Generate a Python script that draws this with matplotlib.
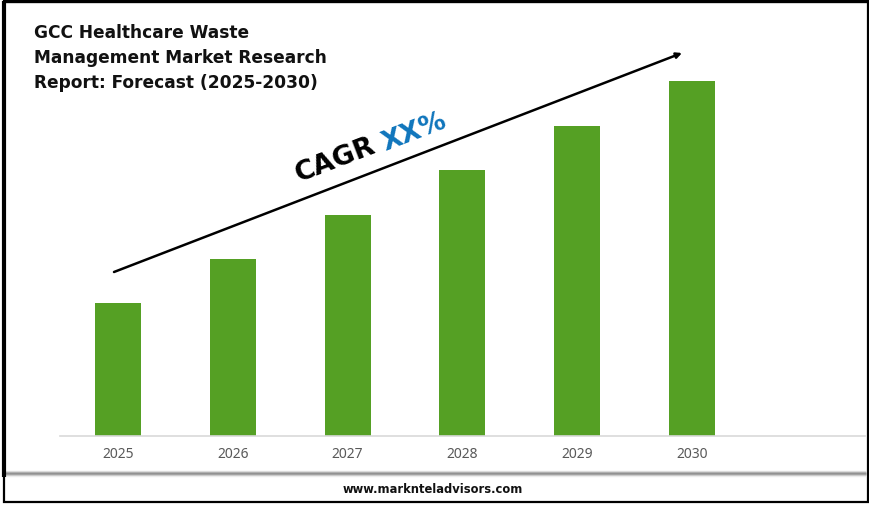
import matplotlib.pyplot as plt
from matplotlib.patches import Rectangle

plt.rcParams["font.family"] = ["Noto Sans", "DejaVu Sans"]

years = ["2025", "2026", "2027", "2028", "2029", "2030"]
values = [1.33, 1.77, 2.215, 2.66, 3.10, 3.55]

title = "GCC Healthcare Waste\nManagement Market Research\nReport: Forecast (2025-2030)"

fig = plt.figure(figsize=(8.7, 5.06), dpi=100)

# capa de fondo en pixeles para el marco y los textos
bg = fig.add_axes([0, 0, 1, 1])
bg.set_xlim(0, 870)
bg.set_ylim(506, 0)
bg.axis("off")

# sombra gris encima del pie
for y, c in zip([472, 473, 474, 475, 476, 477], ["#e4e4e4", "#b8b8b8", "#8f8f8f", "#9a9a9a", "#c4c4c4", "#ececec"]):
    bg.plot([5, 866], [y, y], color=c, lw=1, solid_capstyle="butt")

# marco
bg.add_patch(Rectangle((4, 1.5), 864, 501, fill=False, ec="black", lw=1.6))
bg.plot([4, 4], [2, 478], color="black", lw=3, solid_capstyle="butt")
bg.plot([4, 868], [1.5, 1.5], color="black", lw=2.4, solid_capstyle="butt")

# grafica de barras
ax = fig.add_axes([60 / 870, (506 - 437) / 506, 805 / 870, 396 / 506])
ax.patch.set_alpha(0)
ax.bar(range(len(years)), values, width=0.4, color="#55a024")
ax.set_xlim(-0.505, 6.507)
ax.set_ylim(0, 3.96)
ax.set_xticks(range(len(years)))
ax.set_xticklabels(years, fontsize=10, color="#595959")
ax.tick_params(axis="x", length=0, pad=7)
ax.set_yticks([])
for s in ["top", "left", "right"]:
    ax.spines[s].set_visible(False)
ax.spines["bottom"].set_color("#d9d9d9")
ax.spines["bottom"].set_linewidth(1.2)

# titulo
bg.text(34, 57.5, title, fontsize=12.25, family="DejaVu Sans", fontweight="bold", color="#111111",
        va="center", ha="left", linespacing=1.5)

# flecha CAGR
bg.annotate("", xy=(682, 54), xytext=(114, 273),
            arrowprops=dict(arrowstyle="-|>", color="black", lw=1.8, mutation_scale=8, shrinkA=0, shrinkB=0))
bg.text(335, 160, "CAGR", fontsize=19.5, family="DejaVu Sans", fontweight="bold", color="black",
        rotation=21, rotation_mode="anchor", ha="center", va="center")
bg.text(414, 132, "XX%", fontsize=19, family="DejaVu Sans", fontweight="bold", color="#0f75bc",
        rotation=21, rotation_mode="anchor", ha="center", va="center")

# pie
bg.text(433, 489.5, "www.marknteladvisors.com", fontsize=8.3, family="DejaVu Sans", fontweight="bold",
        color="#111111", ha="center", va="center")

fig.savefig("out.png", dpi=100)
